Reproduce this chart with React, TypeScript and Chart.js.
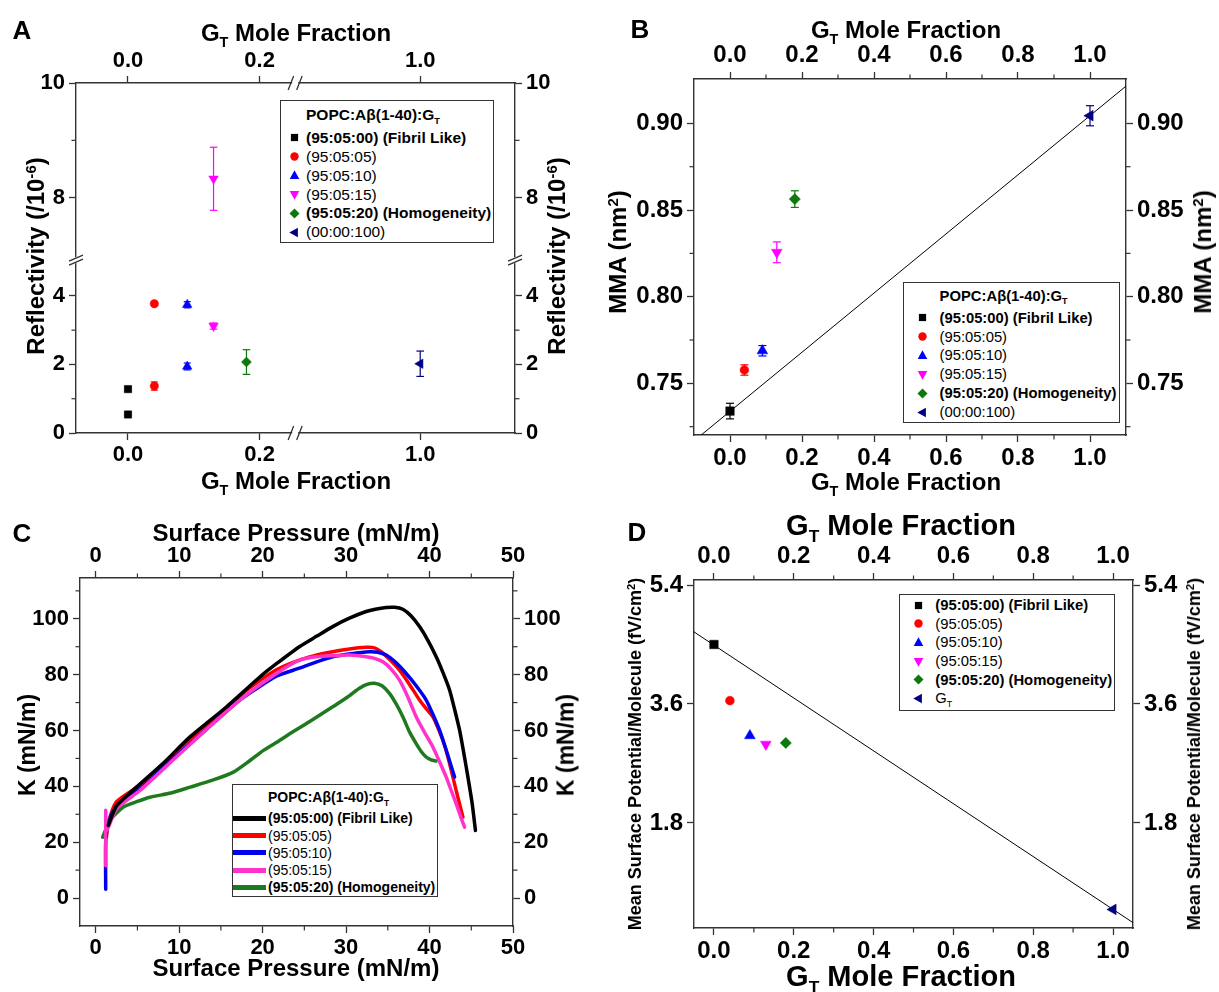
import React, { useEffect, useRef } from "react";
import { Chart, registerables, LinearScale } from "chart.js";

// ---------------- custom broken linear scale ----------------
class BrokenLinearScale extends (LinearScale as any) {
  static id = "brokenLinear";
  static defaults = (LinearScale as any).defaults;
  _dec(v: number): number {
    const o: any = (this as any).options;
    const a0 = o.lowMin, b0 = o.lowMax, a1 = o.highMin, b1 = o.highMax, f = o.split;
    if (v <= b0) return ((v - a0) / (b0 - a0)) * f;
    if (v >= a1) return f + ((v - a1) / (b1 - a1)) * (1 - f);
    return f;
  }
  getPixelForValue(v: number) {
    if (v === null || v === undefined) return NaN;
    return (this as any).getPixelForDecimal(this._dec(v));
  }
  getValueForPixel(p: number) {
    const o: any = (this as any).options;
    const d = (this as any).getDecimalForPixel(p);
    if (d <= o.split) return o.lowMin + (d / o.split) * (o.lowMax - o.lowMin);
    return o.highMin + ((d - o.split) / (1 - o.split)) * (o.highMax - o.highMin);
  }
}
Chart.register(...registerables, BrokenLinearScale as any);

// ---------------- data ----------------
// Panel A: Reflectivity (/10^-6) vs GT mole fraction
const A_FIBRIL_X = [0, 0];
const A_FIBRIL_Y = [1.28, 0.54];
const A_FIBRIL_E = [0.05, 0.03];
const A_0505_X = [0.04, 0.04];
const A_0505_Y = [3.77, 1.37];
const A_0505_E = [0.07, 0.12];
const A_0510_X = [0.09, 0.09];
const A_0510_Y = [3.74, 1.94];
const A_0510_E = [0.09, 0.1];
const A_0515_X = [0.13, 0.13];
const A_0515_Y = [3.12, 8.33];
const A_0515_E = [0.09, 0.55];
const A_0520_X = [0.18];
const A_0520_Y = [2.07];
const A_0520_E = [0.36];
const A_GT_X = [1.0];
const A_GT_Y = [2.02];
const A_GT_E = [0.37];
const A_X_TICKS = [0, 0.2, 1.0];
const A_Y_TICKS = [0, 2, 4, 8, 10];
const A_Y_MINOR = [1, 3, 9];

// Panel B: MMA (nm^2) vs GT mole fraction
const B_X = [0, 0.04, 0.09, 0.13, 0.18, 1.0];
const B_Y = [0.734, 0.7577, 0.7688, 0.8256, 0.8563, 0.9044];
const B_E = [0.0045, 0.003, 0.003, 0.006, 0.0048, 0.0058];
const B_LINE_X = [-0.08, 1.1];
const B_LINE_Y = [0.7202, 0.9215];
const B_X_TICKS = [0, 0.2, 0.4, 0.6, 0.8, 1.0];
const B_X_MINOR = [0.1, 0.3, 0.5, 0.7, 0.9];
const B_Y_TICKS = [0.75, 0.8, 0.85, 0.9];
const B_Y_MINOR = [0.725, 0.775, 0.825, 0.875];

// Panel C: K (mN/m) vs surface pressure (mN/m)
const C_FIBRIL_X = [1.5, 2.5, 5, 8, 11.3, 15.7, 20, 21.7, 24.4, 26.5, 28.4, 30.4, 32.4, 33.5, 34.8, 35.8, 36.8, 37.8, 38.8, 39.8, 40.8, 41.6, 42.4, 43.0, 43.6, 44.1, 44.6, 45.1, 45.5];
const C_FIBRIL_Y = [26, 33, 40, 48, 57.7, 68.5, 80, 84, 90, 93.8, 97.2, 100.2, 102.6, 103.4, 104.0, 104.1, 103.4, 101.0, 97.2, 92.3, 86.4, 80.8, 74.5, 67.6, 60.1, 52.0, 43.3, 34.0, 24.2];
const C_0505_X = [1.3, 1.5, 2.5, 5.3, 9.3, 13.3, 17.3, 19.5, 21.7, 23.0, 24.4, 26.4, 28.4, 30.4, 32.4, 33.4, 34.2, 35.2, 36.4, 37.6, 38.8, 39.6, 40.4, 41.0, 41.6, 42.2, 42.8, 43.4, 44.0];
const C_0505_Y = [22, 27, 34.5, 40.5, 51.5, 62, 72.5, 77.5, 81.8, 83.6, 85.2, 87.0, 88.2, 89.2, 89.8, 89.6, 88.2, 85.5, 81.6, 76.5, 70.9, 67.8, 64.9, 61.0, 56.5, 50.5, 43.3, 36.0, 29.0];
const C_0510_X = [1.2, 1.2, 1.5, 2.5, 5.3, 9.3, 13.3, 17.3, 21.7, 24.4, 26.4, 28.4, 30.6, 32.8, 33.8, 34.8, 36.0, 37.2, 38.4, 39.6, 40.4, 41.2, 42.1, 43.0];
const C_0510_Y = [3.2, 20, 27, 33, 39, 50, 60.5, 71, 79.5, 82.3, 84.5, 86.4, 87.5, 88.2, 88.0, 87, 84.2, 80.4, 76.0, 70.9, 65.8, 60.1, 52.0, 43.3];
const C_0515_X = [1.2, 1.2, 1.3, 2.5, 5.3, 9.3, 13.3, 17.3, 21.7, 24.4, 26.4, 28.4, 30.4, 32.4, 33.4, 34.4, 35.4, 36.4, 37.4, 38.4, 39.4, 40.4, 41.2, 42.0, 42.6, 43.2, 43.7, 44.2];
const C_0515_Y = [11.6, 31.4, 24, 32, 38.5, 49.5, 60.5, 71, 80.5, 85.2, 86.4, 86.8, 87, 86.4, 85.8, 84.6, 82, 78, 72, 64.9, 59.3, 54.1, 48.8, 43.3, 38.5, 33.7, 29.4, 25.4];
const C_0520_X = [0.84, 1.71, 3.3, 5.0, 6.5, 9.0, 11.3, 14.0, 16.5, 18.3, 20.1, 21.8, 23.3, 25.6, 28.4, 30.2, 31.6, 32.5, 33.4, 34.3, 35.2, 36.0, 36.8, 37.6, 38.4, 39.0, 39.6, 40.2, 40.8];
const C_0520_Y = [21.8, 27.8, 32.6, 34.6, 36.1, 37.6, 39.7, 42.2, 45.1, 48.8, 52.9, 56.0, 58.9, 63.1, 68.5, 72.0, 75.1, 76.5, 76.9, 76.0, 73.3, 69.5, 64.9, 59.5, 55.3, 52.5, 50.5, 49.5, 49.1];
const C_X_TICKS = [0, 10, 20, 30, 40, 50];
const C_X_MINOR = [5, 15, 25, 35, 45];
const C_Y_TICKS = [0, 20, 40, 60, 80, 100];
const C_Y_MINOR = [10, 30, 50, 70, 90, 110];

// Panel D: mean surface potential / molecule (fV/cm^2) vs GT mole fraction
const D_X = [0, 0.04, 0.09, 0.13, 0.18, 1.0];
const D_Y = [4.5, 3.65, 3.12, 2.99, 3.01, 0.49];
const D_LINE_X = [-0.05, 1.05];
const D_LINE_Y = [4.69, 0.29];
const D_X_TICKS = [0, 0.2, 0.4, 0.6, 0.8, 1.0];
const D_X_MINOR = [0.1, 0.3, 0.5, 0.7, 0.9];
const D_Y_TICKS = [1.8, 3.6, 5.4];

// ---------------- styling ----------------
const FONT = '"Liberation Sans", Arial, Helvetica, sans-serif';
const AXIS = "#333333";
const SIDE = 78;
const TB = 60;
const COL = {
  fibril: "#000000",
  s05: "#ff0000",
  s10: "#0000ff",
  s15: "#ff00ff",
  s20: "#0b7a0b",
  gt: "#000080",
};
const C_COL = { fibril: "#000000", s05: "#ff0000", s10: "#0000ee", s15: "#ff33cc", s20: "#1e7a1e" };

type Rect = { L: number; T: number; R: number; B: number };
const RECT_A: Rect = { L: 76, T: 83, R: 515, B: 433 };
const RECT_B: Rect = { L: 694, T: 79, R: 1126, B: 435 };
const RECT_C: Rect = { L: 80, T: 578, R: 513, B: 926 };
const RECT_D: Rect = { L: 694, T: 580, R: 1133, B: 928 };

const pts = (xs: number[], ys: number[]) => xs.map((x, i) => ({ x, y: ys[i] }));

function markerDs(xs: number[], ys: number[], color: string, style: string, radius: number, rotation = 0) {
  return {
    data: pts(xs, ys),
    showLine: false,
    pointStyle: style,
    pointRadius: radius,
    pointRotation: rotation,
    pointBackgroundColor: color,
    pointBorderColor: color,
    pointBorderWidth: 0.5,
    order: 0,
  };
}
function errDs(xs: number[], ys: number[], es: number[], color: string, cap: number) {
  return xs.map((x, i) => ({
    data: [
      { x, y: ys[i] - es[i] },
      { x, y: ys[i] + es[i] },
    ],
    showLine: true,
    borderColor: color,
    borderWidth: 1.2,
    pointStyle: "line",
    pointRadius: cap,
    pointBorderColor: color,
    pointBorderWidth: 1.2,
    pointBackgroundColor: color,
    order: 1,
  }));
}
function lineDs(xs: number[], ys: number[], color: string, width: number, order = 2, tension = 0) {
  return {
    data: pts(xs, ys),
    showLine: true,
    borderColor: color,
    borderWidth: width,
    pointRadius: 0,
    tension,
    fill: false,
    borderJoinStyle: "round",
    borderCapStyle: "round",
    order,
  };
}

function scale(position: string, type: string, min: number, max: number, ticks: number[], fmt: (v: number) => string, size: number, extra: any = {}) {
  const vertical = position === "left" || position === "right";
  return {
    type,
    position,
    axis: vertical ? "y" : "x",
    min,
    max,
    offset: false,
    afterBuildTicks: (s: any) => {
      s.ticks = ticks.map((v) => ({ value: v }));
    },
    afterFit: (s: any) => {
      if (vertical) s.width = SIDE;
      else s.height = TB;
    },
    ticks: {
      callback: (v: number) => fmt(v),
      font: { family: FONT, size, weight: "bold" },
      color: "#000",
      padding: vertical ? 4 : 2,
      maxRotation: 0,
      minRotation: 0,
      autoSkip: false,
    },
    grid: { display: true, drawOnChartArea: false, drawTicks: true, tickLength: 7, tickWidth: 1.3, tickColor: AXIS },
    border: { display: true, color: AXIS, width: 1.4 },
    ...extra,
  };
}

function decor(minor: Record<string, number[]>, breaks: { scale: string; value: number }[]) {
  return {
    id: "axisDecor",
    afterDraw(chart: any) {
      const ctx = chart.ctx;
      const ca = chart.chartArea;
      ctx.save();
      ctx.strokeStyle = AXIS;
      ctx.lineWidth = 1.2;
      for (const id of Object.keys(minor)) {
        const s = chart.scales[id];
        if (!s) continue;
        for (const v of minor[id]) {
          const p = s.getPixelForValue(v);
          ctx.beginPath();
          if (s.position === "left") {
            ctx.moveTo(ca.left, p);
            ctx.lineTo(ca.left - 4.5, p);
          } else if (s.position === "right") {
            ctx.moveTo(ca.right, p);
            ctx.lineTo(ca.right + 4.5, p);
          } else if (s.position === "top") {
            ctx.moveTo(p, ca.top);
            ctx.lineTo(p, ca.top - 4.5);
          } else {
            ctx.moveTo(p, ca.bottom);
            ctx.lineTo(p, ca.bottom + 4.5);
          }
          ctx.stroke();
        }
      }
      for (const b of breaks) {
        const s = chart.scales[b.scale];
        if (!s) continue;
        const p = s.getPixelForValue(b.value);
        ctx.lineWidth = 1.3;
        if (s.position === "top" || s.position === "bottom") {
          const y0 = s.position === "top" ? ca.top : ca.bottom;
          ctx.fillStyle = "#fff";
          ctx.fillRect(p - 3, y0 - 2, 6, 4);
          ctx.beginPath();
          ctx.moveTo(p - 7, y0 + 7);
          ctx.lineTo(p - 1.5, y0 - 7);
          ctx.moveTo(p + 1.5, y0 + 7);
          ctx.lineTo(p + 7, y0 - 7);
          ctx.stroke();
        } else {
          const x0 = s.position === "left" ? ca.left : ca.right;
          ctx.fillStyle = "#fff";
          ctx.fillRect(x0 - 2, p - 3, 4, 6);
          ctx.beginPath();
          ctx.moveTo(x0 - 7, p + 5);
          ctx.lineTo(x0 + 7, p - 1);
          ctx.moveTo(x0 - 7, p + 1);
          ctx.lineTo(x0 + 7, p - 5);
          ctx.stroke();
        }
      }
      ctx.restore();
    },
  };
}

function baseOptions(scales: any) {
  return {
    responsive: false,
    maintainAspectRatio: false,
    animation: false,
    events: [],
    layout: { padding: 0 },
    plugins: { legend: { display: false }, tooltip: { enabled: false } },
    scales,
  };
}

const f1 = (v: number) => v.toFixed(1);
const f2 = (v: number) => v.toFixed(2);
const f0 = (v: number) => String(Math.round(v));

// ---------------- chart configs ----------------
function buildA() {
  const brkX = { lowMin: -0.079, lowMax: 0.254, highMin: 0.81, highMax: 1.144, split: 0.4992 };
  const brkY = { lowMin: 0, lowMax: 5.04, highMin: 6.91, highMax: 10, split: 0.4937 };
  const sz = 22;
  return {
    type: "scatter",
    data: {
      datasets: [
        markerDs(A_FIBRIL_X, A_FIBRIL_Y, COL.fibril, "rect", 5.2),
        markerDs(A_0505_X, A_0505_Y, COL.s05, "circle", 4.2),
        markerDs(A_0510_X, A_0510_Y, COL.s10, "triangle", 5.5),
        markerDs(A_0515_X, A_0515_Y, COL.s15, "triangle", 5.5, 180),
        markerDs(A_0520_X, A_0520_Y, COL.s20, "rectRot", 5),
        markerDs(A_GT_X, A_GT_Y, COL.gt, "triangle", 5.5, 270),
        ...errDs(A_FIBRIL_X, A_FIBRIL_Y, A_FIBRIL_E, COL.fibril, 3.5),
        ...errDs(A_0505_X, A_0505_Y, A_0505_E, COL.s05, 3.5),
        ...errDs(A_0510_X, A_0510_Y, A_0510_E, COL.s10, 3.5),
        ...errDs(A_0515_X, A_0515_Y, A_0515_E, COL.s15, 3.8),
        ...errDs(A_0520_X, A_0520_Y, A_0520_E, COL.s20, 3.8),
        ...errDs(A_GT_X, A_GT_Y, A_GT_E, COL.gt, 3.8),
      ],
    },
    options: baseOptions({
      x: scale("bottom", "brokenLinear", brkX.lowMin, brkX.highMax, A_X_TICKS, f1, sz, brkX),
      xTop: scale("top", "brokenLinear", brkX.lowMin, brkX.highMax, A_X_TICKS, f1, sz, brkX),
      y: scale("left", "brokenLinear", brkY.lowMin, brkY.highMax, A_Y_TICKS, f0, sz, brkY),
      yRight: scale("right", "brokenLinear", brkY.lowMin, brkY.highMax, A_Y_TICKS, f0, sz, brkY),
    }),
    plugins: [
      decor({ y: A_Y_MINOR, yRight: A_Y_MINOR }, [
        { scale: "x", value: brkX.lowMax },
        { scale: "xTop", value: brkX.lowMax },
        { scale: "y", value: brkY.lowMax },
        { scale: "yRight", value: brkY.lowMax },
      ]),
    ],
  };
}

function buildB() {
  const sz = 24;
  const shapes: [string, number, number][] = [
    ["rect", 6, 0],
    ["circle", 4.4, 0],
    ["triangle", 6.2, 0],
    ["triangle", 6.2, 180],
    ["rectRot", 5.6, 0],
    ["triangle", 6.2, 270],
  ];
  const cols = [COL.fibril, COL.s05, COL.s10, COL.s15, COL.s20, COL.gt];
  const ds: any[] = [lineDs(B_LINE_X, B_LINE_Y, "#000", 1, 3)];
  B_X.forEach((x, i) => {
    ds.push(markerDs([x], [B_Y[i]], cols[i], shapes[i][0], shapes[i][1], shapes[i][2]));
    ds.push(...errDs([x], [B_Y[i]], [B_E[i]], cols[i], 4));
  });
  return {
    type: "scatter",
    data: { datasets: ds },
    options: baseOptions({
      x: scale("bottom", "linear", -0.1, 1.1, B_X_TICKS, f1, sz),
      xTop: scale("top", "linear", -0.1, 1.1, B_X_TICKS, f1, sz),
      y: scale("left", "linear", 0.7202, 0.9256, B_Y_TICKS, f2, sz),
      yRight: scale("right", "linear", 0.7202, 0.9256, B_Y_TICKS, f2, sz),
    }),
    plugins: [decor({ x: B_X_MINOR, xTop: B_X_MINOR, y: B_Y_MINOR, yRight: B_Y_MINOR }, [])],
  };
}

function buildC() {
  const sz = 22;
  return {
    type: "scatter",
    data: {
      datasets: [
        lineDs(C_0520_X, C_0520_Y, C_COL.s20, 3.5, 5, 0.2),
        lineDs(C_0505_X, C_0505_Y, C_COL.s05, 3.5, 4, 0.2),
        lineDs(C_0510_X, C_0510_Y, C_COL.s10, 3.5, 3, 0.2),
        lineDs(C_0515_X, C_0515_Y, C_COL.s15, 3.5, 2, 0.2),
        lineDs(C_FIBRIL_X, C_FIBRIL_Y, C_COL.fibril, 3.5, 1, 0.2),
      ],
    },
    options: baseOptions({
      x: scale("bottom", "linear", -1.88, 50, C_X_TICKS, f0, sz),
      xTop: scale("top", "linear", -1.88, 50, C_X_TICKS, f0, sz),
      y: scale("left", "linear", -10, 114.6, C_Y_TICKS, f0, sz),
      yRight: scale("right", "linear", -10, 114.6, C_Y_TICKS, f0, sz),
    }),
    plugins: [decor({ x: C_X_MINOR, xTop: C_X_MINOR, y: C_Y_MINOR, yRight: C_Y_MINOR }, [])],
  };
}

function buildD() {
  const sz = 24;
  const shapes: [string, number, number][] = [
    ["rect", 6, 0],
    ["circle", 4.4, 0],
    ["triangle", 6.2, 0],
    ["triangle", 6.2, 180],
    ["rectRot", 5.6, 0],
    ["triangle", 6.2, 270],
  ];
  const cols = [COL.fibril, COL.s05, COL.s10, COL.s15, COL.s20, COL.gt];
  const ds: any[] = [lineDs(D_LINE_X, D_LINE_Y, "#000", 1, 3)];
  D_X.forEach((x, i) => {
    ds.push(markerDs([x], [D_Y[i]], cols[i], shapes[i][0], shapes[i][1], shapes[i][2]));
  });
  return {
    type: "scatter",
    data: { datasets: ds },
    options: baseOptions({
      x: scale("bottom", "linear", -0.05, 1.05, D_X_TICKS, f1, sz),
      xTop: scale("top", "linear", -0.05, 1.05, D_X_TICKS, f1, sz),
      y: scale("left", "linear", 0.209, 5.476, D_Y_TICKS, f1, sz),
      yRight: scale("right", "linear", 0.209, 5.476, D_Y_TICKS, f1, sz),
    }),
    plugins: [decor({ x: D_X_MINOR, xTop: D_X_MINOR }, [])],
  };
}

// ---------------- components ----------------
function ChartPanel({ rect, build }: { rect: Rect; build: () => any }) {
  const ref = useRef<HTMLCanvasElement>(null);
  const w = rect.R - rect.L + 2 * SIDE;
  const h = rect.B - rect.T + 2 * TB;
  useEffect(() => {
    const chart = new Chart(ref.current as HTMLCanvasElement, build() as any);
    return () => chart.destroy();
  }, []);
  return (
    <canvas
      ref={ref}
      width={w}
      height={h}
      style={{ position: "absolute", left: rect.L - SIDE, top: rect.T - TB, width: w, height: h }}
    />
  );
}

const Sub = ({ children }: { children: any }) => (
  <span style={{ fontSize: "0.6em", position: "relative", top: "0.42em" }}>{children}</span>
);
const Sup = ({ children }: { children: any }) => (
  <span style={{ fontSize: "0.62em", position: "relative", top: "-0.55em" }}>{children}</span>
);

function Text({ x, y, size, rotate = false, weight = "bold", children }: any) {
  return (
    <div
      style={{
        position: "absolute",
        left: x,
        top: y,
        transform: `translate(-50%, -50%)${rotate ? " rotate(-90deg)" : ""}`,
        fontFamily: FONT,
        fontSize: size,
        fontWeight: weight,
        whiteSpace: "nowrap",
        lineHeight: 1,
        color: "#000",
      }}
    >
      {children}
    </div>
  );
}

function Marker({ shape, color, size = 11 }: { shape: string; color: string; size?: number }) {
  const s = size;
  const h = s / 2;
  let el: any = null;
  if (shape === "square") el = <rect x={h - 3.6} y={h - 3.6} width={7.2} height={7.2} fill={color} />;
  else if (shape === "circle") el = <circle cx={h} cy={h} r={4.2} fill={color} />;
  else if (shape === "up") el = <polygon points={`${h},${h - 5.2} ${h + 4.8},${h + 3.4} ${h - 4.8},${h + 3.4}`} fill={color} />;
  else if (shape === "down") el = <polygon points={`${h},${h + 5.2} ${h + 4.8},${h - 3.4} ${h - 4.8},${h - 3.4}`} fill={color} />;
  else if (shape === "diamond") el = <polygon points={`${h},${h - 5} ${h + 5},${h} ${h},${h + 5} ${h - 5},${h}`} fill={color} />;
  else if (shape === "left") el = <polygon points={`${h - 5.2},${h} ${h + 3.4},${h - 4.8} ${h + 3.4},${h + 4.8}`} fill={color} />;
  return (
    <svg width={s} height={s} style={{ display: "block" }}>
      {el}
    </svg>
  );
}

type Item = { label: string; bold: boolean; color: string; shape: string; sub?: string };
const ITEMS: Item[] = [
  { label: "(95:05:00) (Fibril Like)", bold: true, color: COL.fibril, shape: "square" },
  { label: "(95:05:05)", bold: false, color: COL.s05, shape: "circle" },
  { label: "(95:05:10)", bold: false, color: COL.s10, shape: "up" },
  { label: "(95:05:15)", bold: false, color: COL.s15, shape: "down" },
  { label: "(95:05:20) (Homogeneity)", bold: true, color: COL.s20, shape: "diamond" },
  { label: "(00:00:100)", bold: false, color: COL.gt, shape: "left" },
];
const C_ITEMS: Item[] = [
  { label: "(95:05:00) (Fibril Like)", bold: true, color: C_COL.fibril, shape: "line" },
  { label: "(95:05:05)", bold: false, color: C_COL.s05, shape: "line" },
  { label: "(95:05:10)", bold: false, color: C_COL.s10, shape: "line" },
  { label: "(95:05:15)", bold: false, color: C_COL.s15, shape: "line" },
  { label: "(95:05:20) (Homogeneity)", bold: true, color: C_COL.s20, shape: "line" },
];
const D_ITEMS: Item[] = [
  ...ITEMS.slice(0, 5),
  { label: "G", sub: "T", bold: false, color: COL.gt, shape: "left" },
];

function LegendBox({ left, top, width, height, title, titleH, rowH, items, markerX, textX, font, line }: any) {
  return (
    <div
      style={{
        position: "absolute",
        left,
        top,
        width,
        height,
        border: "1.5px solid #333",
        boxSizing: "border-box",
        background: "#fff",
        fontFamily: FONT,
        fontSize: font,
        color: "#000",
      }}
    >
      {title ? (
        <div
          style={{
            position: "absolute",
            left: textX,
            top: 0,
            height: titleH,
            display: "flex",
            alignItems: "center",
            fontWeight: "bold",
            whiteSpace: "nowrap",
          }}
        >
          <span>
            POPC:Aβ(1-40):G<Sub>T</Sub>
          </span>
        </div>
      ) : null}
      {items.map((it: Item, i: number) => (
        <div
          key={i}
          style={{ position: "absolute", left: 0, top: titleH + i * rowH, height: rowH, width: "100%" }}
        >
          {line ? (
            <div
              style={{
                position: "absolute",
                left: 0,
                top: rowH / 2 - 2.5,
                width: textX - 2,
                height: 5,
                background: it.color,
              }}
            />
          ) : (
            <div style={{ position: "absolute", left: markerX - 5.5, top: rowH / 2 - 5.5 }}>
              <Marker shape={it.shape} color={it.color} />
            </div>
          )}
          <div
            style={{
              position: "absolute",
              left: textX,
              top: 0,
              height: rowH,
              display: "flex",
              alignItems: "center",
              whiteSpace: "nowrap",
              fontWeight: it.bold ? "bold" : "normal",
            }}
          >
            <span>
              {it.label}
              {it.sub ? <Sub>{it.sub}</Sub> : null}
            </span>
          </div>
        </div>
      ))}
    </div>
  );
}

const GT = ({}: any) => (
  <>
    G<Sub>T</Sub> Mole Fraction
  </>
);

export default function App() {
  return (
    <div
      style={{
        position: "absolute",
        left: 0,
        top: 0,
        width: 1219,
        height: 992,
        background: "#fff",
        overflow: "hidden",
      }}
    >
      <ChartPanel rect={RECT_A} build={buildA} />
      <ChartPanel rect={RECT_B} build={buildB} />
      <ChartPanel rect={RECT_C} build={buildC} />
      <ChartPanel rect={RECT_D} build={buildD} />

      {/* panel letters */}
      <Text x={22} y={30} size={26} weight="bold">A</Text>
      <Text x={640} y={29} size={26} weight="bold">B</Text>
      <Text x={22} y={533} size={26} weight="bold">C</Text>
      <Text x={637} y={532} size={26} weight="bold">D</Text>

      {/* Panel A titles */}
      <Text x={296} y={33} size={24}><GT /></Text>
      <Text x={296} y={481} size={24}><GT /></Text>
      <Text x={36} y={256} size={24} rotate>
        Reflectivity (/10<Sup>-6</Sup>)
      </Text>
      <Text x={557} y={256} size={24} rotate>
        Reflectivity (/10<Sup>-6</Sup>)
      </Text>

      {/* Panel B titles */}
      <Text x={906} y={30} size={24}><GT /></Text>
      <Text x={906} y={482} size={24}><GT /></Text>
      <Text x={618} y={252} size={24} rotate>
        MMA (nm<Sup>2</Sup>)
      </Text>
      <Text x={1203} y={252} size={24} rotate>
        MMA (nm<Sup>2</Sup>)
      </Text>

      {/* Panel C titles */}
      <Text x={296} y={533} size={24}>Surface Pressure (mN/m)</Text>
      <Text x={296} y={968} size={24}>Surface Pressure (mN/m)</Text>
      <Text x={27} y={745} size={23} rotate>K (mN/m)</Text>
      <Text x={566} y={745} size={23} rotate>K (mN/m)</Text>

      {/* Panel D titles */}
      <Text x={901} y={525} size={29}><GT /></Text>
      <Text x={901} y={976} size={29}><GT /></Text>
      <Text x={635} y={754} size={18} rotate>
        Mean Surface Potential/Molecule (fV/cm<Sup>2</Sup>)
      </Text>
      <Text x={1194} y={754} size={18} rotate>
        Mean Surface Potential/Molecule (fV/cm<Sup>2</Sup>)
      </Text>

      {/* Legends */}
      <LegendBox left={280} top={100} width={214} height={143} title titleH={27.4} rowH={18.9}
        items={ITEMS} markerX={13.4} textX={25} font={15.5} />
      <LegendBox left={903} top={282} width={217} height={141} title titleH={25.2} rowH={18.9}
        items={ITEMS} markerX={18.3} textX={35.6} font={14.8} />
      <LegendBox left={232} top={784} width={206} height={113} title titleH={24.8} rowH={17.25}
        items={C_ITEMS} markerX={0} textX={35} font={14} line />
      <LegendBox left={899} top={594} width={216} height={117} titleH={1} rowH={18.6}
        items={D_ITEMS} markerX={18.1} textX={35.3} font={14.8} />
    </div>
  );
}
